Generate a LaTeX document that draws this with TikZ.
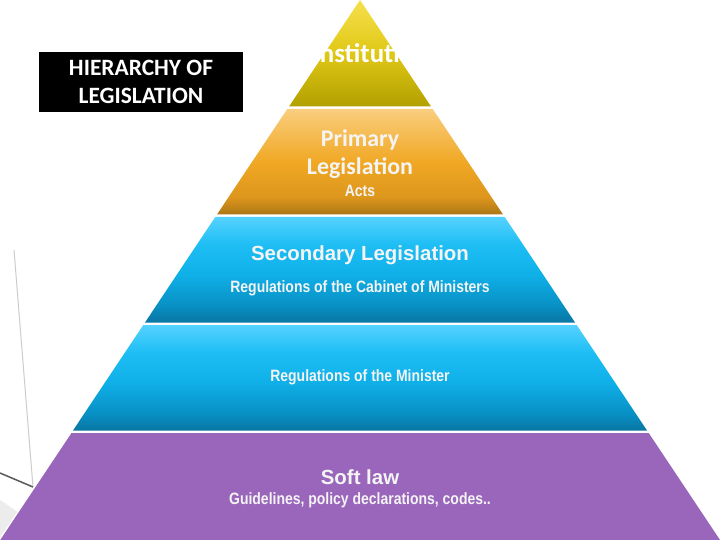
\documentclass[tikz,border=0pt]{standalone}
\usepackage{fontspec}
\setmainfont{Liberation Sans}
\newfontfamily\narrowfont{Liberation Sans}[FakeStretch=0.85]
\newfontfamily\calfont{Carlito}
\usepackage{tikz}

\definecolor{goldtop}{HTML}{F6E04C}
\definecolor{goldmid}{HTML}{E0C816}
\definecolor{goldbot}{HTML}{B2A000}
\definecolor{ambertop}{HTML}{F9CE7E}
\definecolor{ambermid}{HTML}{F1A824}
\definecolor{amberlow}{HTML}{DC961C}
\definecolor{amberbot}{HTML}{AC7616}
\definecolor{skytop}{HTML}{55D2FF}
\definecolor{skyhigh}{HTML}{1EBEF5}
\definecolor{skymid}{HTML}{0FB0E8}
\definecolor{skylow}{HTML}{0890C4}
\definecolor{skybot}{HTML}{0A76A2}
\definecolor{softviolet}{HTML}{9966BB}
\definecolor{paletext}{HTML}{F4F4F4}

\pgfdeclareverticalshading{goldshade}{100bp}{color(0bp)=(goldbot); color(25bp)=(goldbot);
  color(50bp)=(goldmid); color(75bp)=(goldtop); color(100bp)=(goldtop)}
\pgfdeclareverticalshading{ambershade}{100bp}{color(0bp)=(amberbot); color(25bp)=(amberbot);
  color(33bp)=(amberlow); color(50bp)=(ambermid); color(75bp)=(ambertop); color(100bp)=(ambertop)}
\pgfdeclareverticalshading{skyshade}{100bp}{color(0bp)=(skybot); color(25bp)=(skybot);
  color(33bp)=(skylow); color(48bp)=(skymid); color(62bp)=(skyhigh); color(75bp)=(skytop);
  color(100bp)=(skytop)}

\begin{document}
\begin{tikzpicture}[x=1bp, y=-1bp,
  every node/.style={text=paletext, align=center, inner sep=0pt},
  bigtxt/.style={font=\calfont\bfseries\fontsize{24}{28}\selectfont},
  headtxt/.style={font=\bfseries\fontsize{20.5}{25}\selectfont},
  smalltxt/.style={font=\narrowfont\bfseries\fontsize{16.5}{19}\selectfont}]
  \useasboundingbox (0,0) rectangle (720,540);
  \fill[white] (0,0) rectangle (720,540);
  % faint backdrop on the left
  \draw[gray!40, line width=1pt] (14,250) -- (33,487);
  \draw[black!65, line width=1.5pt] (0,473) -- (33,487);
  \fill[gray!15] (0,500) -- (30,520) -- (18,540) -- (0,540) -- cycle;
  % pyramid layers
  \shade[shading=goldshade] (360,0) -- (431,106.5) -- (289,106.5) -- cycle;
  \shade[shading=ambershade]
    (287.3,109) -- (432.7,109) -- (503,214.5) -- (217,214.5) -- cycle;
  \shade[shading=skyshade]
    (215.3,217) -- (504.7,217) -- (575,322.5) -- (145,322.5) -- cycle;
  \shade[shading=skyshade]
    (143.3,325) -- (576.7,325) -- (647,430.5) -- (73,430.5) -- cycle;
  \fill[softviolet] (71.3,433) -- (648.7,433) -- (720,540) -- (0,540) -- cycle;
  \draw[white, line width=1.2pt] (70.5,433) -- (-0.8,540);
  % texts
  \node[bigtxt, text=white, font=\calfont\bfseries\fontsize{27}{30}\selectfont]
    (const) at (360,53) {Constitution};
  \node[bigtxt] (prim) at (360,154) {Primary\\Legislation};
  \node[smalltxt] (acts) at (360,191) {Acts};
  \node[headtxt] (sec) at (360,255) {Secondary Legislation};
  \node[smalltxt] (cab) at (360,288) {Regulations of the Cabinet of Ministers};
  \node[smalltxt] (mini) at (360,377) {Regulations of the Minister};
  \node[headtxt] (soft) at (360,477) {Soft law};
  \node[smalltxt] (guide) at (360,500) {Guidelines, policy declarations, codes..};
  % title box
  \node[fill=black, text=white, minimum width=204bp, minimum height=60bp,
    font=\calfont\bfseries\fontsize{23.5}{28}\selectfont] (title) at (141,82)
    {HIERARCHY OF\\LEGISLATION};
\end{tikzpicture}
\end{document}
